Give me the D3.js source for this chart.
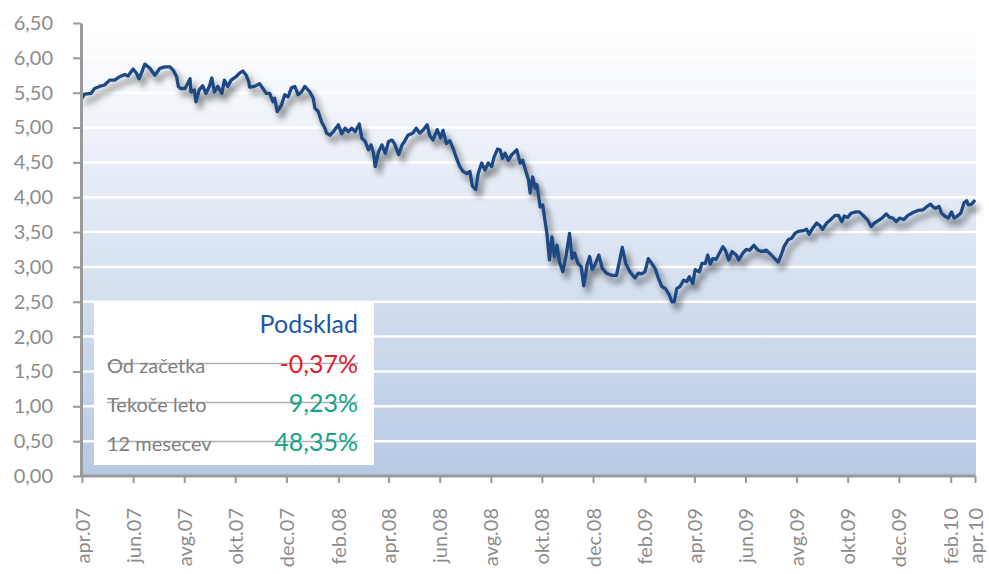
<!DOCTYPE html>
<html>
<head>
<meta charset="utf-8">
<script src="https://cdn.jsdelivr.net/npm/d3@7"></script>
<style>
  body { margin: 0; background: #fff; }
  svg { display: block; font-family: Lato, "Open Sans", sans-serif; }
</style>
</head>
<body>
<div id="chart"></div>
<script>
// day offsets from 1 Apr 2007 and fund values
var days = [0, 3, 11, 15, 21, 27, 33, 39, 45, 51, 55, 61, 65, 68, 71, 75, 81, 87, 93, 99,
    105, 109, 113, 115, 118, 123, 129, 130, 134, 136, 140, 144, 148, 152, 155, 158, 162, 167, 170, 174,
    178, 184, 188, 192, 196, 199, 200, 206, 212, 216, 220, 224, 228, 230, 233, 238, 242, 246, 250, 254,
    258, 262, 266, 272, 276, 278, 282, 286, 290, 292, 296, 300, 306, 310, 314, 318, 322, 326, 331, 334,
    338, 342, 345, 348, 350, 354, 358, 362, 366, 370, 373, 378, 382, 385, 389, 395, 399, 403, 407, 412,
    415, 419, 424, 428, 431, 435, 439, 443, 447, 451, 455, 459, 463, 466, 470, 473, 477, 481, 485, 489,
    492, 496, 499, 502, 505, 509, 513, 519, 523, 526, 530, 533, 535, 538, 541, 543, 547, 550, 552, 555,
    558, 561, 564, 567, 570, 574, 578, 582, 585, 588, 592, 596, 599, 603, 606, 609, 613, 617, 621, 626,
    632, 638, 642, 645, 649, 654, 660, 664, 668, 672, 676, 680, 684, 688, 692, 697, 701, 704, 707, 710,
    714, 718, 722, 725, 729, 732, 737, 740, 744, 747, 750, 753, 757, 761, 765, 768, 772, 776, 781, 784,
    789, 793, 797, 802, 807, 811, 817, 823, 827, 831, 834, 838, 843, 847, 851, 855, 861, 865, 868, 872,
    877, 881, 884, 889, 893, 899, 903, 907, 910, 914, 918, 924, 928, 934, 938, 942, 946, 950, 955, 960,
    964, 968, 972, 976, 981, 986, 992, 998, 1004, 1008, 1013, 1016, 1019, 1023, 1026, 1030, 1034, 1038, 1041, 1045,
    1049, 1053, 1056, 1058, 1062, 1066];

var values = [5.42, 5.48, 5.49, 5.56, 5.59, 5.61, 5.68, 5.68, 5.73, 5.76, 5.74, 5.84, 5.78, 5.70, 5.78, 5.91, 5.85, 5.75, 5.85, 5.87,
    5.87, 5.82, 5.73, 5.59, 5.56, 5.56, 5.70, 5.51, 5.54, 5.37, 5.54, 5.60, 5.49, 5.59, 5.71, 5.51, 5.59, 5.49, 5.68, 5.59,
    5.68, 5.73, 5.78, 5.81, 5.75, 5.66, 5.58, 5.59, 5.63, 5.56, 5.49, 5.49, 5.37, 5.42, 5.23, 5.32, 5.47, 5.44, 5.57, 5.59,
    5.47, 5.51, 5.59, 5.51, 5.42, 5.28, 5.23, 5.08, 4.99, 4.92, 4.89, 4.94, 5.04, 4.91, 4.99, 4.94, 4.99, 4.94, 5.05, 4.85,
    4.80, 4.68, 4.75, 4.63, 4.44, 4.65, 4.75, 4.63, 4.80, 4.82, 4.77, 4.61, 4.75, 4.80, 4.89, 4.92, 4.99, 4.92, 4.96, 5.04,
    4.89, 4.82, 4.97, 4.85, 4.96, 4.77, 4.81, 4.70, 4.56, 4.44, 4.37, 4.34, 4.37, 4.16, 4.11, 4.34, 4.49, 4.39, 4.49, 4.44,
    4.58, 4.69, 4.68, 4.56, 4.63, 4.53, 4.61, 4.68, 4.49, 4.53, 4.37, 4.25, 4.06, 4.29, 4.13, 4.18, 3.86, 3.89, 3.72, 3.48,
    3.10, 3.43, 3.15, 3.31, 3.07, 2.93, 3.17, 3.48, 3.12, 3.20, 3.05, 3.00, 2.73, 3.03, 3.15, 2.96, 3.05, 3.17, 2.98, 2.91,
    2.88, 2.88, 3.10, 3.28, 3.05, 2.93, 2.84, 2.91, 2.90, 2.93, 3.12, 3.05, 2.98, 2.84, 2.72, 2.68, 2.60, 2.50, 2.50, 2.69,
    2.72, 2.81, 2.79, 2.86, 2.76, 2.96, 2.93, 3.05, 3.05, 3.17, 3.04, 3.12, 3.11, 3.20, 3.29, 3.24, 3.10, 3.22, 3.17, 3.10,
    3.20, 3.25, 3.24, 3.31, 3.24, 3.22, 3.24, 3.17, 3.12, 3.07, 3.15, 3.29, 3.39, 3.41, 3.48, 3.51, 3.52, 3.54, 3.47, 3.55,
    3.63, 3.59, 3.54, 3.63, 3.67, 3.74, 3.74, 3.65, 3.73, 3.71, 3.77, 3.79, 3.79, 3.72, 3.67, 3.58, 3.63, 3.66, 3.70, 3.76,
    3.71, 3.70, 3.65, 3.70, 3.68, 3.74, 3.78, 3.81, 3.82, 3.86, 3.90, 3.86, 3.84, 3.87, 3.77, 3.73, 3.70, 3.79, 3.70, 3.73,
    3.77, 3.92, 3.95, 3.89, 3.90, 3.96];

var tickLabels = ["apr.07", "jun.07", "avg.07", "okt.07", "dec.07", "feb.08", "apr.08", "jun.08", "avg.08", "okt.08",
    "dec.08", "feb.09", "apr.09", "jun.09", "avg.09", "okt.09", "dec.09", "feb.10", "apr.10"];
var yTicks = [0, 0.5, 1, 1.5, 2, 2.5, 3, 3.5, 4, 4.5, 5, 5.5, 6, 6.5];

var legendTitle = "Podsklad";
var legendRows = ["Od začetka", "Tekoče leto", "12 mesecev"];
var legendValues = ["-0,37%", "9,23%", "48,35%"];
var legendColors = ["#e0202e", "#15a487", "#15a487"];

var startDate = new Date(2007, 3, 1);
var data = days.map(function (d, i) {
    return { date: d3.timeDay.offset(startDate, d), value: values[i] };
});

var width = 989, height = 574;
var margin = { top: 23, right: 13, bottom: 98, left: 82 };

var svg = d3.select("#chart")
    .append("svg")
    .attr("width", width)
    .attr("height", height);

var defs = svg.append("defs");
var grad = defs.append("linearGradient")
    .attr("id", "bg")
    .attr("x1", 0).attr("y1", 0).attr("x2", 0).attr("y2", 1);
grad.append("stop").attr("offset", "0%").attr("stop-color", "#ffffff");
grad.append("stop").attr("offset", "100%").attr("stop-color", "#b6c9e4");

var shadow = defs.append("filter")
    .attr("id", "shadow")
    .attr("x", "-5%").attr("y", "-10%")
    .attr("width", "115%").attr("height", "130%");
shadow.append("feDropShadow")
    .attr("dx", 4).attr("dy", 6)
    .attr("stdDeviation", 3)
    .attr("flood-color", "#000")
    .attr("flood-opacity", 0.55);

var x = d3.scaleTime()
    .domain([startDate, data[data.length - 1].date])
    .range([margin.left, width - margin.right - 1]);

var y = d3.scaleLinear()
    .domain([0, 6.5])
    .range([height - margin.bottom, margin.top]);

// plot background
svg.append("rect")
    .attr("x", margin.left)
    .attr("y", margin.top)
    .attr("width", width - margin.right - margin.left)
    .attr("height", y(0) - margin.top)
    .attr("fill", "url(#bg)");

// gridlines
svg.append("g")
    .selectAll("line")
    .data(yTicks.slice(1))
    .enter()
    .append("line")
    .attr("x1", margin.left)
    .attr("x2", width - margin.right)
    .attr("y1", function (d) { return y(d); })
    .attr("y2", function (d) { return y(d); })
    .attr("stroke", "#ffffff")
    .attr("stroke-width", 2.5);

// line
var line = d3.line()
    .x(function (d) { return x(d.date); })
    .y(function (d) { return y(d.value); });

svg.append("path")
    .datum(data)
    .attr("d", line)
    .attr("fill", "none")
    .attr("stroke", "#1b4883")
    .attr("stroke-width", 3.3)
    .attr("stroke-linejoin", "round")
    .attr("filter", "url(#shadow)");

// legend box
var box = svg.append("g");
box.append("rect")
    .attr("x", 94).attr("y", 301)
    .attr("width", 280).attr("height", 164)
    .attr("fill", "#ffffff");
box.append("text")
    .attr("x", 358).attr("y", 333)
    .attr("text-anchor", "end")
    .attr("fill", "#1a58a8")
    .attr("font-size", "25px")
    .text(legendTitle);

var rows = box.selectAll(".row")
    .data(legendRows)
    .enter()
    .append("g")
    .attr("class", "row")
    .attr("transform", function (d, i) { return "translate(0," + [373, 412, 451][i] + ")"; });

rows.append("line")
    .attr("x1", 107).attr("x2", 358)
    .attr("y1", -9.5).attr("y2", -9.5)
    .attr("stroke", "#b0b0b0")
    .attr("stroke-width", 1.5);
rows.append("text")
    .attr("x", 107)
    .attr("fill", "#808080")
    .attr("font-size", "20px")
    .text(function (d) { return d; });
rows.append("text")
    .attr("x", 358)
    .attr("text-anchor", "end")
    .attr("font-size", "25px")
    .attr("fill", function (d, i) { return legendColors[i]; })
    .text(function (d, i) { return legendValues[i]; });

// axes
var locale = d3.formatLocale({ decimal: ",", thousands: ".", grouping: [3], currency: ["", "€"] });
var fmt = locale.format(".2f");

var yAxis = d3.axisLeft(y)
    .tickValues(yTicks)
    .tickFormat(fmt)
    .tickSize(8)
    .tickSizeOuter(0)
    .tickPadding(20);

var gy = svg.append("g")
    .attr("transform", "translate(" + (margin.left - 1) + ",0)")
    .call(yAxis);
gy.select(".domain").attr("stroke", "#9a9a9a").attr("stroke-width", 3);
gy.selectAll(".tick line").attr("stroke", "#9a9a9a").attr("stroke-width", 2);
gy.selectAll(".tick text")
    .attr("fill", "#8c8c8c")
    .style("font-family", "Lato, sans-serif")
    .style("font-size", "20px");

// a tick every two months from the start, and one at the end of the axis
var tickDates = d3.timeMonth.range(startDate, x.domain()[1], 2);
tickDates.push(x.domain()[1]);

var xAxis = d3.axisBottom(x)
    .tickValues(tickDates)
    .tickFormat(function (d, i) { return tickLabels[i]; })
    .tickSize(7)
    .tickSizeOuter(0);

var gx = svg.append("g")
    .attr("transform", "translate(0," + y(0) + ")")
    .call(xAxis);
gx.select(".domain").attr("stroke", "#9a9a9a").attr("stroke-width", 3)
    .attr("d", "M" + (margin.left - 2) + ",0H" + x.range()[1]);
gx.selectAll(".tick line").attr("stroke", "#9a9a9a").attr("stroke-width", 2);
gx.selectAll(".tick text")
    .attr("fill", "#8c8c8c")
    .style("font-family", "Lato, sans-serif")
    .style("font-size", "20px")
    .attr("text-anchor", "end")
    .attr("transform", "translate(0,32) rotate(-90)")
    .attr("x", 0)
    .attr("y", 0)
    .attr("dy", "0.35em");
</script>
</body>
</html>
